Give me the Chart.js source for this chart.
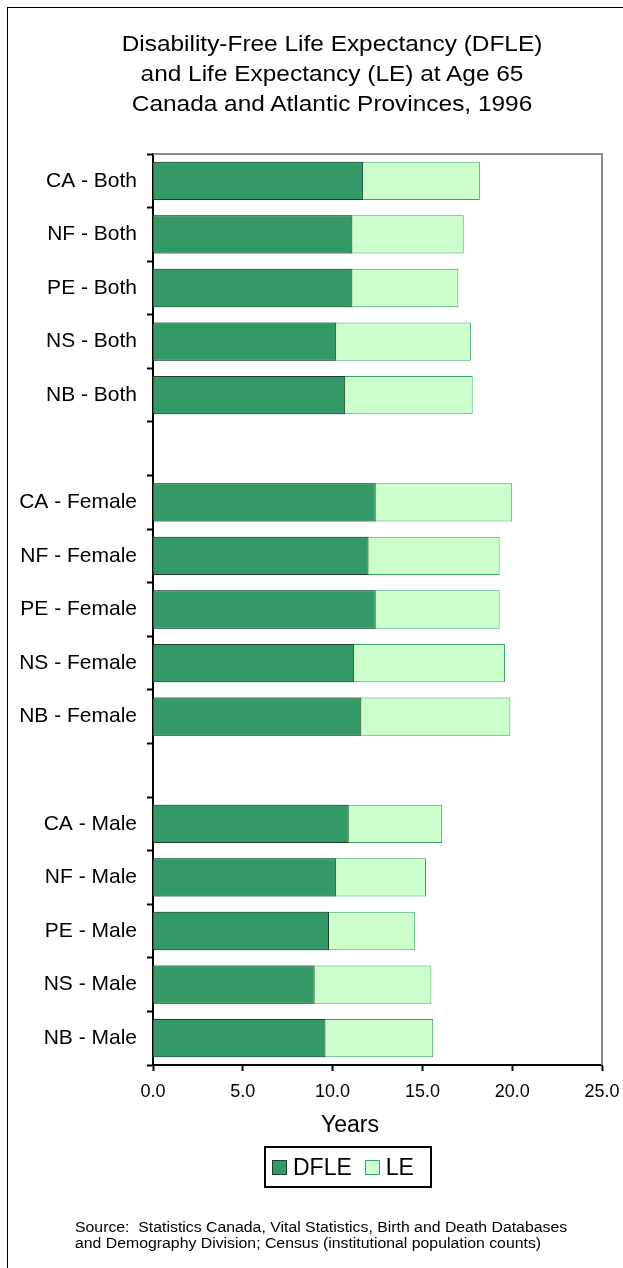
<!DOCTYPE html>
<html>
<head>
<meta charset="utf-8">
<script src="https://cdn.jsdelivr.net/npm/chart.js@4/dist/chart.umd.min.js"></script>
<style>
    body { margin: 0; background: #fff; font-family: 'Liberation Sans', Arial, sans-serif; }
    #wrap { position: relative; width: 623px; height: 1268px; overflow: hidden; background: #fff; }
    #frame { position: absolute; left: 7px; top: 7px; width: 700px; height: 1300px; border-left: 1px solid #000; border-top: 1px solid #000; }
    #chartBox { position: absolute; left: 0; top: 0; width: 623px; height: 1268px; }
    #title { position: absolute; left: 132px; width: 400px; top: 29px; text-align: center; font-size: 22px; line-height: 30px;
             color: #000; transform: scaleX(1.11); transform-origin: center; }
    #xTitle { position: absolute; left: 250px; width: 200px; top: 1111px; text-align: center; font-size: 23px; color: #000; }
    #legend { position: absolute; left: 264px; top: 1146px; width: 158px; height: 38px; border: 2px solid #000;
              display: flex; align-items: center; justify-content: flex-start; padding-left: 6px; box-sizing: content-box;
              font-size: 23px; }
    #legend .item { display: flex; align-items: center; margin-right: 13px; }
    #legend .sw { width: 13px; height: 13px; margin-right: 6px; border: 1px solid; }
    #source { position: absolute; left: 75px; top: 1219px; font-size: 14px; line-height: 16px; color: #000;
              white-space: nowrap; transform: scaleX(1.13); transform-origin: left top; }
</style>
</head>
<body>
<div id="wrap">
    <div id="frame"></div>
    <div id="chartBox"><canvas id="chartDFLE"></canvas></div>
    <div id="title"></div>
    <div id="xTitle">Years</div>
    <div id="legend"></div>
    <div id="source">Source:&nbsp; Statistics Canada, Vital Statistics, Birth and Death Databases<br>and Demography Division; Census (institutional population counts)</div>
</div>
<script>
    // Categories (empty strings are the gaps between groups)
    const categorias = [
        'CA - Both', 'NF - Both', 'PE - Both', 'NS - Both', 'NB - Both', '',
        'CA - Female', 'NF - Female', 'PE - Female', 'NS - Female', 'NB - Female', '',
        'CA - Male', 'NF - Male', 'PE - Male', 'NS - Male', 'NB - Male'
    ];
    // Disability-free life expectancy at 65 (years)
    const dfle = [11.7, 11.1, 11.1, 10.2, 10.7, null,
                  12.4, 12.0, 12.4, 11.2, 11.6, null,
                  10.9, 10.2, 9.8, 9.0, 9.6];
    // Life expectancy at 65 (years)
    const le = [18.2, 17.3, 17.0, 17.7, 17.8, null,
                20.0, 19.3, 19.3, 19.6, 19.9, null,
                16.1, 15.2, 14.6, 15.5, 15.6];
    const xTicks = [0, 5, 10, 15, 20, 25];

    const titulo = [
        'Disability-Free Life Expectancy (DFLE)',
        'and Life Expectancy (LE) at Age 65',
        'Canada and Atlantic Provinces, 1996'
    ];

    const colorDFLE = '#339966';
    const colorLE = '#ccffcc';
    const fontFam = "'Liberation Sans', Arial, sans-serif";

    document.getElementById('title').innerHTML = titulo.join('<br>');

    // gray frame on top and right of the plot area
    const plotFrame = {
        id: 'plotFrame',
        beforeDatasetsDraw(chart) {
            const a = chart.chartArea;
            const ctx = chart.ctx;
            ctx.save();
            ctx.strokeStyle = '#8c8c8c';
            ctx.lineWidth = 2;
            ctx.beginPath();
            ctx.moveTo(a.left, a.top);
            ctx.lineTo(a.right, a.top);
            ctx.lineTo(a.right, a.bottom);
            ctx.stroke();
            ctx.restore();
        }
    };

    const ctx = document.getElementById('chartDFLE').getContext('2d');
    const chart = new Chart(ctx, {
        type: 'bar',
        data: {
            labels: categorias,
            datasets: [
                {
                    label: 'DFLE',
                    data: dfle,
                    backgroundColor: colorDFLE,
                    borderColor: '#1f3f2e',
                    borderWidth: 1,
                    grouped: false
                },
                {
                    label: 'LE',
                    data: le,
                    backgroundColor: colorLE,
                    borderColor: '#3aa36b',
                    borderWidth: 1,
                    grouped: false
                }
            ]
        },
        options: {
            indexAxis: 'y',
            responsive: true,
            maintainAspectRatio: false,
            animation: false,
            datasets: { bar: { categoryPercentage: 1, barPercentage: 0.715 } },
            layout: { padding: { left: 0, right: 21, top: 154, bottom: 163 } },
            plugins: {
                legend: { display: false },
                tooltip: { enabled: false },
                title: { display: false }
            },
            scales: {
                x: {
                    min: 0,
                    max: 25,
                    afterBuildTicks: s => { s.ticks = xTicks.map(v => ({ value: v })); },
                    afterFit: s => { s.height = 40; s.paddingLeft = 0; s.paddingRight = 0; },
                    ticks: {
                        color: '#000',
                        padding: 10,
                        maxRotation: 0,
                        font: { family: fontFam, size: 18 },
                        callback: v => Number(v).toFixed(1)
                    },
                    grid: { drawOnChartArea: false, drawTicks: true, tickLength: 6, tickColor: '#000', tickWidth: 2 },
                    border: { color: '#000', width: 2 }
                },
                y: {
                    afterFit: s => { s.width = 153; s.paddingTop = 0; s.paddingBottom = 0; },
                    ticks: {
                        color: '#000',
                        padding: 10,
                        autoSkip: false,
                        font: { family: fontFam, size: 21 }
                    },
                    grid: { offset: true, drawOnChartArea: false, drawTicks: true, tickLength: 6, tickColor: '#000', tickWidth: 2 },
                    border: { color: '#000', width: 2 }
                }
            }
        },
        plugins: [plotFrame]
    });

    // HTML legend
    const legendEl = document.getElementById('legend');
    chart.data.datasets.forEach(ds => {
        const item = document.createElement('div');
        item.className = 'item';
        item.innerHTML = `<span class="sw" style="background:${ds.backgroundColor};border-color:${ds.borderColor}"></span>${ds.label}`;
        legendEl.appendChild(item);
    });
</script>
</body>
</html>
